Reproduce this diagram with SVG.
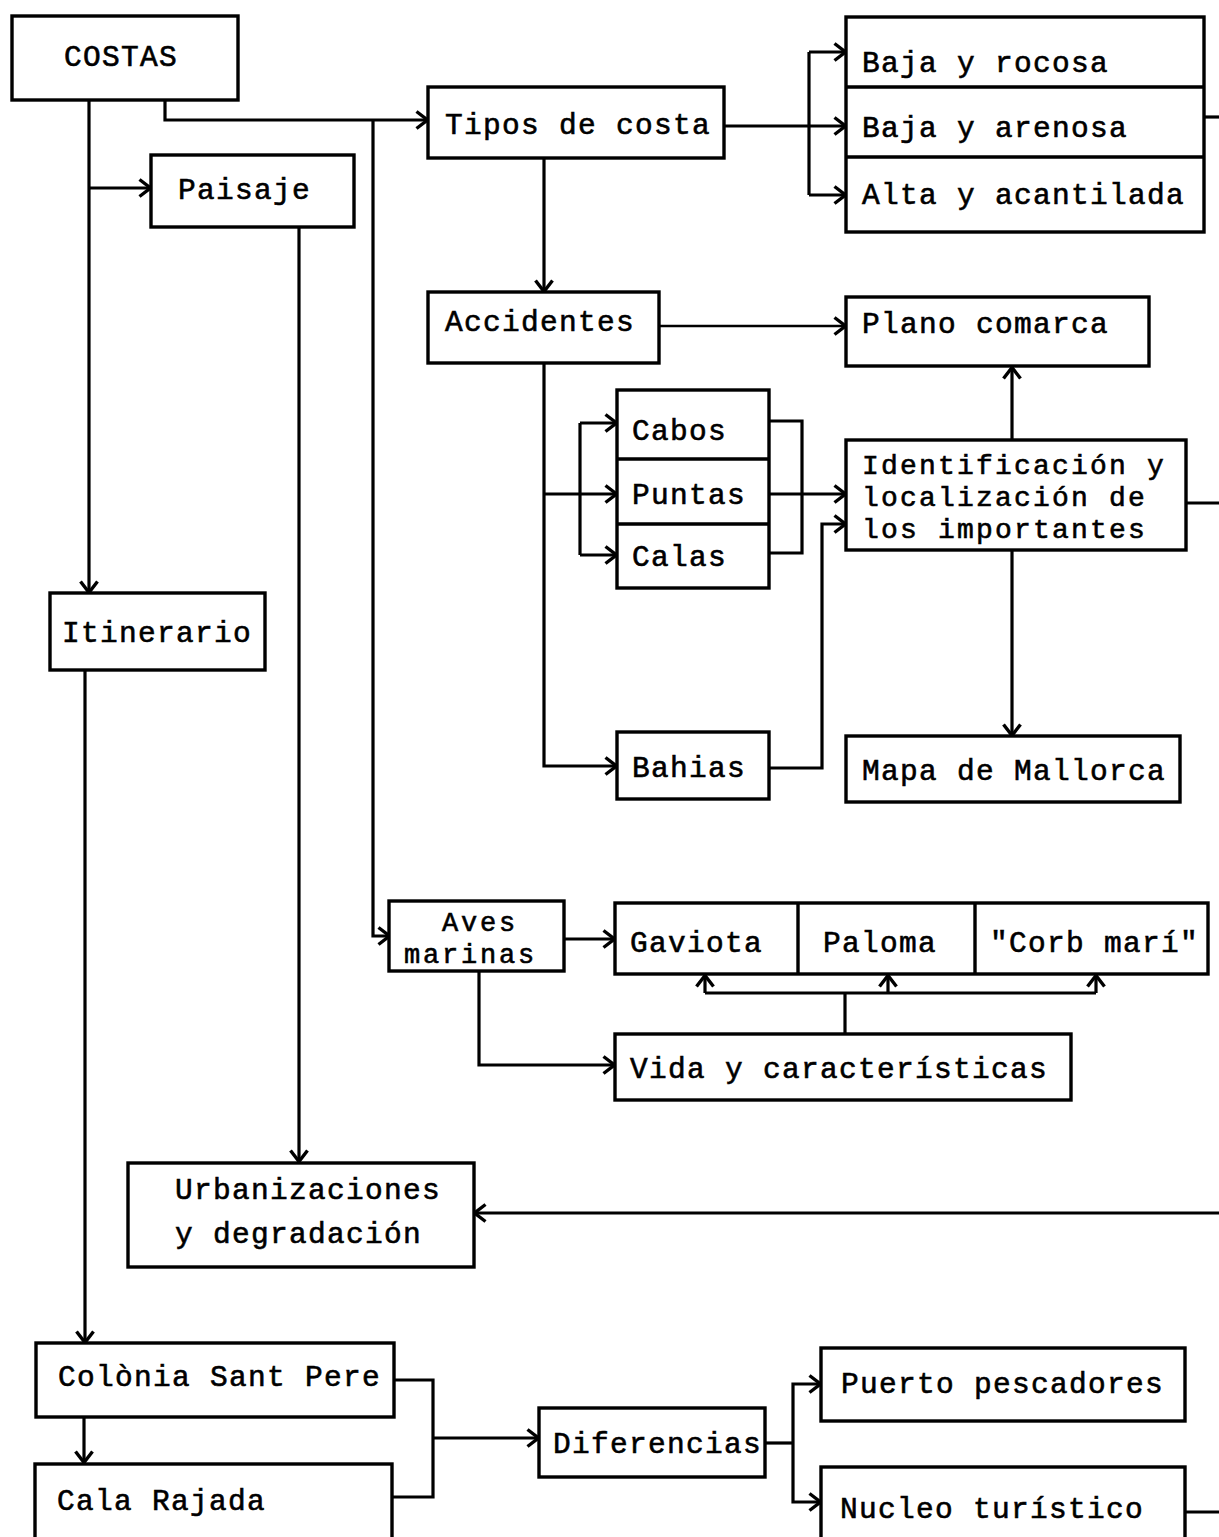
<svg xmlns="http://www.w3.org/2000/svg" width="1219" height="1537" viewBox="0 0 1219 1537">
<style>
.b{fill:#fff;stroke:#000;stroke-width:3.4}
.d{fill:none;stroke:#000;stroke-width:3.4}
.c{fill:none;stroke:#000;stroke-width:3.2}
.a{marker-end:url(#arr)}
text{font-family:"Liberation Mono","Courier New",monospace;font-size:29.5px;letter-spacing:1.3px;fill:#000;stroke:#000;stroke-width:0.6}
text.m{font-size:28px;letter-spacing:2.2px}
text.s{font-size:27px;letter-spacing:2.8px}
</style>
<defs>
<marker id="arr" viewBox="0 0 14 20" refX="13" refY="10" markerWidth="14" markerHeight="20" markerUnits="userSpaceOnUse" orient="auto">
<path d="M1.5,1.5 L12.5,10 L1.5,18.5" fill="none" stroke="#000" stroke-width="3.4"/>
</marker>
</defs>
<rect width="1219" height="1537" fill="#fff"/>

<g id="connectors">
<path class="c a" d="M165,100 V120 H428"/>
<path class="c a" d="M373,120 V936 H390"/>
<path class="c a" d="M89,100 V593"/>
<path class="c a" d="M89,188 H151"/>
<path class="c a" d="M299,227 V1162"/>
<path class="c a" d="M724,126 H846"/>
<path class="c" d="M809,52 V195"/>
<path class="c a" d="M809,52 H846"/>
<path class="c a" d="M809,195 H846"/>
<path class="c" d="M1204,117 H1219"/>
<path class="c a" d="M544,158 V292"/>
<path class="a" d="M659,326 H846" fill="none" stroke="#000" stroke-width="2.4"/>
<path class="c a" d="M544,363 V766 H617"/>
<path class="c a" d="M544,494 H617"/>
<path class="c" d="M580,423 V555"/>
<path class="c a" d="M580,423 H617"/>
<path class="c a" d="M580,555 H617"/>
<path class="c" d="M769,421 H802 V553 H769"/>
<path class="c a" d="M769,494 H846"/>
<path class="c a" d="M769,768 H822 V524 H846"/>
<path class="c a" d="M1012,440 V367"/>
<path class="c a" d="M1012,550 V736"/>
<path class="c" d="M1186,503 H1219"/>
<path class="c a" d="M85,670 V1343"/>
<path class="c a" d="M564,939 H615"/>
<path class="c a" d="M479,971 V1065 H615"/>
<path class="c" d="M845,1034 V993"/>
<path class="c" d="M705,993 H1096"/>
<path class="c a" d="M705,993 V975"/>
<path class="c a" d="M888,993 V975"/>
<path class="c a" d="M1096,993 V975"/>
<path class="c a" d="M1219,1213 H474"/>
<path class="c a" d="M84,1417 V1463"/>
<path class="c" d="M393,1380 H433 V1497 H392"/>
<path class="c a" d="M433,1438 H539"/>
<path class="c" d="M765,1443 H793"/>
<path class="c a" d="M793,1443 V1384 H821"/>
<path class="c a" d="M793,1443 V1502 H821"/>
<path class="c" d="M1185,1512 H1219"/>
</g>

<g id="costas">
<rect class="b" x="12" y="16" width="226" height="84"/>
<text x="64" y="66">COSTAS</text>
</g>
<g id="paisaje">
<rect class="b" x="151" y="155" width="203" height="72"/>
<text x="178" y="199">Paisaje</text>
</g>
<g id="tipos">
<rect class="b" x="428" y="87" width="296" height="71"/>
<text x="445" y="134">Tipos de costa</text>
</g>
<g id="tipos-costa">
<rect class="b" x="846" y="17" width="358" height="215"/>
<path class="d" d="M846,87 H1204 M846,157 H1204"/>
<text x="862" y="72">Baja y rocosa</text>
<text x="862" y="137">Baja y arenosa</text>
<text x="862" y="204">Alta y acantilada</text>
</g>
<g id="accidentes">
<rect class="b" x="428" y="292" width="231" height="71"/>
<text x="445" y="331">Accidentes</text>
</g>
<g id="plano">
<rect class="b" x="846" y="297" width="303" height="69"/>
<text x="862" y="333">Plano comarca</text>
</g>
<g id="cabos-puntas-calas">
<rect class="b" x="617" y="390" width="152" height="198"/>
<path class="d" d="M617,459 H769 M617,524 H769"/>
<text x="632" y="440">Cabos</text>
<text x="632" y="504">Puntas</text>
<text x="632" y="566">Calas</text>
</g>
<g id="identificacion">
<rect class="b" x="846" y="440" width="340" height="110"/>
<text class="m" x="862" y="474">Identificación y</text>
<text class="m" x="862" y="506">localización de</text>
<text class="m" x="862" y="538">los importantes</text>
</g>
<g id="bahias">
<rect class="b" x="617" y="732" width="152" height="67"/>
<text x="632" y="777">Bahias</text>
</g>
<g id="mapa">
<rect class="b" x="846" y="736" width="334" height="66"/>
<text x="862" y="780">Mapa de Mallorca</text>
</g>
<g id="itinerario">
<rect class="b" x="50" y="593" width="215" height="77"/>
<text x="62" y="642">Itinerario</text>
</g>
<g id="aves">
<rect class="b" x="389" y="901" width="175" height="70"/>
<text class="s" x="442" y="931">Aves</text>
<text class="s" x="404" y="963">marinas</text>
</g>
<g id="aves-especies">
<rect class="b" x="615" y="903" width="593" height="71"/>
<path class="d" d="M798,903 V974 M975,903 V974"/>
<text x="630" y="952">Gaviota</text>
<text x="823" y="952">Paloma</text>
<text x="990" y="952">"Corb marí"</text>
</g>
<g id="vida">
<rect class="b" x="615" y="1034" width="456" height="66"/>
<text x="630" y="1078">Vida y características</text>
</g>
<g id="urbanizaciones">
<rect class="b" x="128" y="1163" width="346" height="104"/>
<text x="175" y="1199">Urbanizaciones</text>
<text x="175" y="1243">y degradación</text>
</g>
<g id="colonia">
<rect class="b" x="36" y="1343" width="358" height="74"/>
<text x="58" y="1386">Colònia Sant Pere</text>
</g>
<g id="cala-rajada">
<rect class="b" x="35" y="1464" width="357" height="80"/>
<text x="57" y="1510">Cala Rajada</text>
</g>
<g id="diferencias">
<rect class="b" x="539" y="1408" width="226" height="69"/>
<text x="553" y="1453">Diferencias</text>
</g>
<g id="puerto">
<rect class="b" x="821" y="1348" width="364" height="73"/>
<text x="841" y="1393">Puerto pescadores</text>
</g>
<g id="nucleo">
<rect class="b" x="821" y="1467" width="364" height="80"/>
<text x="840" y="1518">Nucleo turístico</text>
</g>
</svg>
